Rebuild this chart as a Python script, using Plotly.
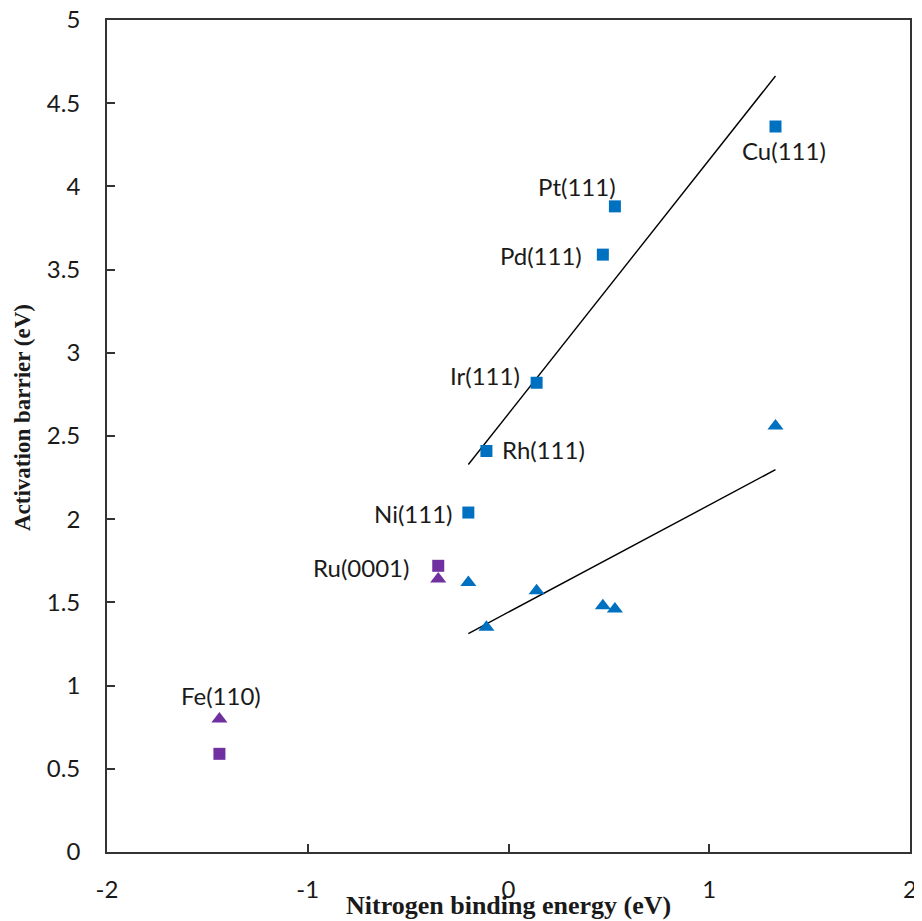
import numpy as np
import plotly.graph_objects as go

# ---- data ----
surfaces_blue = ["Ni(111)", "Rh(111)", "Ir(111)", "Pd(111)", "Pt(111)", "Cu(111)"]
x_blue = [-0.20, -0.11, 0.14, 0.47, 0.53, 1.33]
barrier_sq_blue = [2.04, 2.41, 2.82, 3.59, 3.88, 4.36]
barrier_tri_blue = [1.62, 1.35, 1.57, 1.48, 1.46, 2.56]

surfaces_purple = ["Ru(0001)", "Fe(110)"]
x_purple = [-0.35, -1.44]
barrier_sq_purple = [1.72, 0.59]
barrier_tri_purple = [1.64, 0.80]

x_ticks = [-2, -1, 0, 1, 2]
y_ticks = [0, 0.5, 1, 1.5, 2, 2.5, 3, 3.5, 4, 4.5, 5]

BLUE = "#0070C0"
PURPLE = "#7030A0"
TICKFONT = dict(family="Lato", size=24, color="#1a1a1a")

fig = go.Figure()

# regression lines
xb = np.array(x_blue)
for ys in (barrier_sq_blue, barrier_tri_blue):
    m, c = np.polyfit(xb, np.array(ys), 1)
    xs = np.array([xb.min(), xb.max()])
    fig.add_trace(go.Scatter(x=xs, y=m * xs + c, mode="lines",
                             line=dict(color="black", width=1.4),
                             hoverinfo="skip", showlegend=False))

fig.add_trace(go.Scatter(x=x_blue, y=barrier_sq_blue, mode="markers",
                         marker=dict(symbol="square", size=12, color=BLUE),
                         showlegend=False))
fig.add_trace(go.Scatter(x=x_blue, y=barrier_tri_blue, mode="markers",
                         marker=dict(symbol="triangle-up", size=14, color=BLUE),
                         showlegend=False))
fig.add_trace(go.Scatter(x=x_purple, y=barrier_sq_purple, mode="markers",
                         marker=dict(symbol="square", size=12, color=PURPLE),
                         showlegend=False))
fig.add_trace(go.Scatter(x=x_purple, y=barrier_tri_purple, mode="markers",
                         marker=dict(symbol="triangle-up", size=14, color=PURPLE),
                         showlegend=False))

# labels: pixel offsets from the point they describe
label_shifts = {
    "Ni(111)": (-55, -1), "Rh(111)": (57, 1), "Ir(111)": (-52, 7),
    "Pd(111)": (-62, -1), "Pt(111)": (-38, 20), "Cu(111)": (8, -24),
    "Ru(0001)": (-77, -2), "Fe(110)": (2, 23),
}
label_points = list(zip(surfaces_blue, x_blue, barrier_sq_blue)) + [
    (surfaces_purple[0], x_purple[0], barrier_sq_purple[0]),
    (surfaces_purple[1], x_purple[1], barrier_tri_purple[1]),
]
for name, x, y in label_points:
    dx, dy = label_shifts[name]
    fig.add_annotation(x=x, y=y, text=name, showarrow=False,
                       xshift=dx, yshift=dy, font=TICKFONT,
                       xanchor="center", yanchor="middle")

# axis titles
fig.add_annotation(xref="paper", yref="paper", x=0.5, y=0, yshift=-53,
                   text="<b>Nitrogen binding energy (eV)</b>", showarrow=False,
                   font=dict(family="Liberation Serif", size=26, color="#1a1a1a"),
                   xanchor="center", yanchor="middle")
fig.add_annotation(xref="paper", yref="paper", x=0, y=0.5, xshift=-85, yshift=18,
                   text="<b>Activation barrier (eV)</b>", showarrow=False, textangle=-90,
                   font=dict(family="Liberation Serif", size=23, color="#1a1a1a"),
                   xanchor="center", yanchor="middle")

axis_common = dict(showgrid=False, zeroline=False, showline=True, mirror=True,
                   linecolor="#333333", linewidth=1.8, ticks="inside", ticklen=8,
                   tickwidth=1.5, tickcolor="#333333", tickfont=TICKFONT,
                   automargin=False, ticklabeloverflow="allow")

fig.update_xaxes(range=[-2, 2], tickvals=x_ticks, ticktext=[str(v) for v in x_ticks],
                 ticklabelstandoff=15, **axis_common)
fig.update_yaxes(range=[0, 5], tickvals=y_ticks, ticktext=[f"{v:g}" for v in y_ticks],
                 ticklabelstandoff=20, **axis_common)

# page body adds an 8px margin, so the figure is 8px smaller and margins shifted
fig.update_layout(width=914, height=913, plot_bgcolor="white", paper_bgcolor="white",
                  margin=dict(l=99, r=12, t=12, b=69), showlegend=False)

fig.write_html("out.html")
